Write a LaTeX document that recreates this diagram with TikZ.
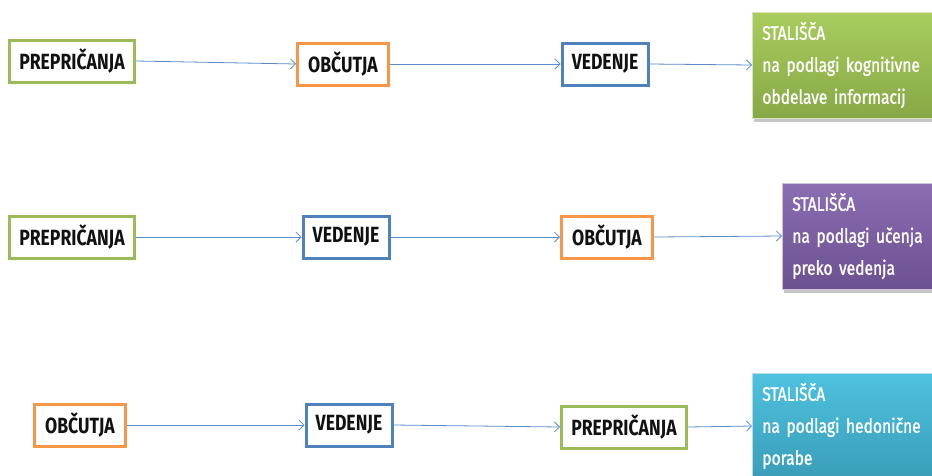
\documentclass[tikz,border=0pt]{standalone}
\usepackage{fontspec}
\setmainfont{Fira Sans}[FakeStretch=0.8]
\newfontfamily\resfont{Fira Sans}[FakeStretch=0.8, FakeBold=1.3]
\usetikzlibrary{arrows.meta,shadows}
\definecolor{cGreen}{HTML}{9BBB59}
\definecolor{cOrange}{HTML}{F79646}
\definecolor{cBlue}{HTML}{4F81BD}
\definecolor{cPurple}{HTML}{8064A2}
\definecolor{cCyan}{HTML}{4BACC6}
\definecolor{cLine}{HTML}{5B8BC9}
\definecolor{cText}{HTML}{111111}
\definecolor{greenTop}{HTML}{A9CC5E}
\definecolor{greenBot}{HTML}{87A845}
\definecolor{purpleTop}{HTML}{8B6DB3}
\definecolor{purpleBot}{HTML}{6C5190}
\definecolor{cyanTop}{HTML}{4EC2DF}
\definecolor{cyanBot}{HTML}{3A9DB8}
\tikzset{
  item/.style={draw, line width=3pt, fill=white, minimum height=42pt,
    inner xsep=2pt, text=cText, font=\fontsize{22}{24}\selectfont\bfseries},
  greenitem/.style={item, draw=cGreen, minimum width=125pt},
  orangeitem/.style={item, draw=cOrange, minimum width=91pt},
  blueitem/.style={item, draw=cBlue, minimum width=86pt},
  result/.style={anchor=west, align=left, text width=190pt, minimum height=106pt,
    inner xsep=10pt, inner ysep=4pt, text=white, draw=white!60!#1, line width=0.6pt,
    font=\resfont\fontsize{19.5}{32}\selectfont,
    drop shadow={shadow xshift=2pt, shadow yshift=-4pt, opacity=0.45}},
  link/.style={draw=cLine, line width=0.8pt, -{Straight Barb[length=5pt,width=10pt,line width=0.8pt]}}
}
\begin{document}
\begin{tikzpicture}[x=1pt,y=-1pt]
\useasboundingbox (0,0) rectangle (932,475);
\clip (0,0) rectangle (932,475);

% first row: beliefs -> feelings -> knowledge
\node[greenitem]  (p1) at (72,61)  {PREPRIČANJA};
\node[orangeitem] (o1) at (343,64) {OBČUTJA};
\node[blueitem]   (v1) at (605,64) {VEDENJE};
\node[result=cGreen, top color=greenTop, bottom color=greenBot] (s1) at (752,65)
  {STALIŠČA\\na podlagi kognitivne\\obdelave informacij};

% second row: beliefs -> knowledge -> feelings
\node[greenitem]  (p2) at (72,237)  {PREPRIČANJA};
\node[blueitem]   (v2) at (346,237) {VEDENJE};
\node[orangeitem] (o2) at (607,237) {OBČUTJA};
\node[result=cPurple, top color=purpleTop, bottom color=purpleBot] (s2) at (782,236)
  {STALIŠČA\\na podlagi učenja\\preko vedenja};

% third row: feelings -> knowledge -> beliefs
\node[orangeitem] (o3) at (80,425)  {OBČUTJA};
\node[blueitem]   (v3) at (349,425) {VEDENJE};
\node[greenitem]  (p3) at (624,427) {PREPRIČANJA};
\node[result=cCyan, top color=cyanTop, bottom color=cyanBot] (s3) at (752,426)
  {STALIŠČA\\na podlagi hedonične\\porabe};

\draw[link] (p1.east) -- (o1.west);
\draw[link] (o1.east) -- (v1.west);
\draw[link] (v1.east) -- (s1.west);
\draw[link] (p2.east) -- (v2.west);
\draw[link] (v2.east) -- (o2.west);
\draw[link] (o2.east) -- (s2.west);
\draw[link] (o3.east) -- (v3.west);
\draw[link] (v3.east) -- (p3.west);
\draw[link] (p3.east) -- (s3.west);
\end{tikzpicture}
\end{document}
